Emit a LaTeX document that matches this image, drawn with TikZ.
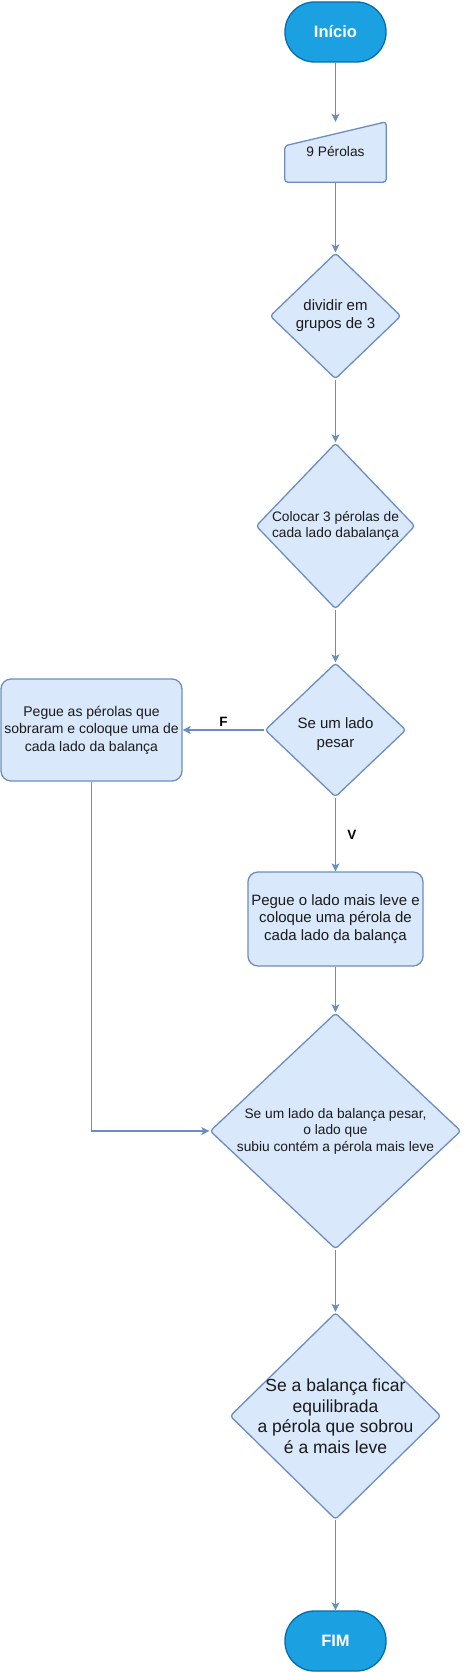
\documentclass[tikz,border=0pt]{standalone}
\usepackage{fontspec}
\setmainfont{Liberation Sans}
\usepackage{tikz}
\usetikzlibrary{
  positioning,
  calc,
  arrows.meta,
  shapes.geometric
}
\definecolor{boxfill}{HTML}{DAE8FC}
\definecolor{boxline}{HTML}{6C8EBF}
\definecolor{termfill}{HTML}{1BA1E2}
\definecolor{termline}{HTML}{006EAF}
\definecolor{txtcol}{HTML}{1A1A1A}

\tikzstyle{terminal}=[rectangle, rounded corners=29.5pt, fill=termfill, draw=termline, line width=1.3pt,
  minimum width=101pt, minimum height=60pt, text=white, font=\fontsize{16.5}{19}\selectfont\bfseries]
\tikzstyle{process}=[rectangle, rounded corners=10pt, fill=boxfill, draw=boxline, line width=1.3pt,
  align=center, text=txtcol]
\tikzstyle{decision}=[diamond, rounded corners=3pt, fill=boxfill, draw=boxline, line width=1.3pt,
  inner sep=0pt]
\tikzstyle{txt}=[align=center, text=txtcol]
\tikzstyle{flow}=[-{Stealth[length=8pt, width=8pt, inset=2pt]}, draw=boxline, line width=1.1pt]
\tikzstyle{answer}=[font=\fontsize{13.5}{16}\selectfont\bfseries, text=black]

\begin{document}
\begin{tikzpicture}[x=1pt, y=-1pt]
    \useasboundingbox (0,0) rectangle (463,1672);

    % 開始
    \node[terminal] (inicio) at (335.5,32) {Início};

    % 入力 (手操作入力)
    \node[minimum width=101pt, minimum height=60pt] (dados) at (335.5,152) {};
    \draw[fill=boxfill, draw=boxline, line width=1.3pt, rounded corners=3pt]
      (dados.south west) -- (dados.south east) -- (dados.north east) -- ($(dados.north west)+(0,24)$) -- cycle;
    \node[txt, font=\fontsize{13.75}{16.5}\selectfont] (dadostxt) at (dados) {9 Pérolas};

    % 判定ブロック
    \node[decision, minimum width=131pt, minimum height=126pt,
      label={[txt, font=\fontsize{15}{18}\selectfont]center:{dividir em\\grupos de 3}}] (dividir) at (335.5,316) {};
    \node[decision, minimum width=159pt, minimum height=166pt,
      label={[txt, font=\fontsize{13.75}{16.5}\selectfont]center:{Colocar 3 pérolas de\\cada lado dabalança}}] (colocar) at (335.5,526) {};
    \node[decision, minimum width=141pt, minimum height=134pt,
      label={[txt, font=\fontsize{15}{18.5}\selectfont, yshift=-4pt]center:{Se um lado\\pesar}}] (pesar) at (335.5,730) {};

    % 処理ブロック
    \node[process, minimum width=181pt, minimum height=102pt, font=\fontsize{14}{17.5}\selectfont] (sobra) at (91.5,730)
      {Pegue as pérolas que\\sobraram e coloque uma de\\cada lado da balança};
    \node[process, minimum width=175pt, minimum height=94pt, font=\fontsize{15}{17.5}\selectfont] (leve) at (335.5,919)
      {Pegue o lado mais leve e\\coloque uma pérola de\\cada lado da balança};

    % 結果の判定
    \node[decision, minimum width=251pt, minimum height=236pt,
      label={[txt, font=\fontsize{13.75}{16.5}\selectfont]center:{Se um lado da balança pesar,\\o lado que\\subiu contém a pérola mais leve}}] (balanca) at (335.5,1131) {};
    \node[decision, minimum width=211pt, minimum height=207pt,
      label={[txt, font=\fontsize{17.5}{20.5}\selectfont]center:{Se a balança ficar\\equilibrada\\a pérola que sobrou\\é a mais leve}}] (equil) at (335.5,1416) {};

    % 終了
    \node[terminal] (fim) at (335.5,1641) {FIM};

    % 矢印の描画
    \draw[flow] (inicio) -- (dados.north);
    \draw[flow] (dados.south) -- (dividir.north);
    \draw[flow] (dividir) -- (colocar);
    \draw[flow] (colocar) -- (pesar);
    \draw[flow] (pesar.west) -- (sobra.east) node[midway, above, answer] {F};
    \draw[flow] (pesar.south) -- (leve.north) node[midway, right=8pt, answer] {V};
    \draw[flow] (sobra.south) |- (balanca.west);
    \draw[flow] (leve) -- (balanca);
    \draw[flow] (balanca) -- (equil);
    \draw[flow] (equil) -- (fim);
  \end{tikzpicture}
\end{document}
